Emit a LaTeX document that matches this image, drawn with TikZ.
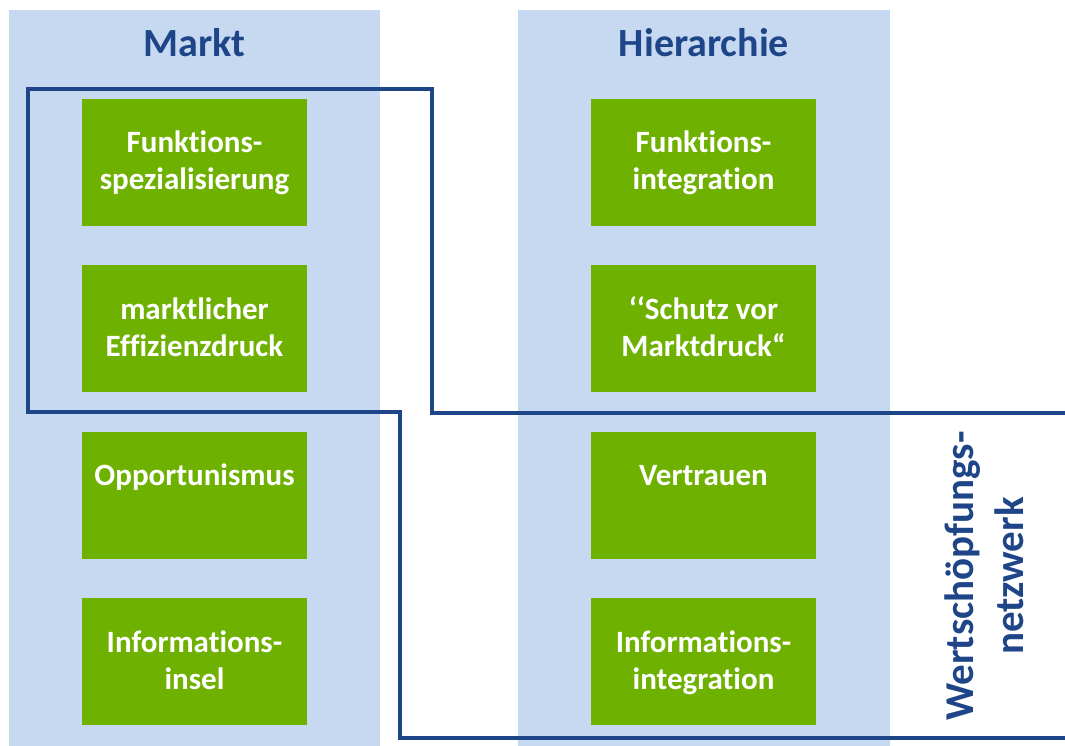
\documentclass[tikz,border=0pt]{standalone}
\usepackage{fontspec}
\setmainfont{Carlito}[Ligatures={NoCommon}]
\usetikzlibrary{calc}
\definecolor{colbg}{RGB}{198,217,241}
\definecolor{boxgreen}{RGB}{111,177,0}
\definecolor{darkblue}{RGB}{30,69,135}
\tikzset{
  column/.style={fill=colbg, draw=none},
  gbox/.style={rectangle, fill=boxgreen, draw=none, minimum width=225pt, minimum height=127pt, inner sep=0pt},
  btxt/.style={anchor=base, inner sep=0pt, text=white, font=\fontsize{31}{37}\selectfont\bfseries},
  title/.style={anchor=base, inner sep=0pt, text=darkblue, font=\fontsize{40}{49}\selectfont\bfseries},
  outline/.style={draw=darkblue, line width=3.5pt, line join=miter}
}
\newcommand{\twol}[2]{\renewcommand{\arraystretch}{1}\setlength{\tabcolsep}{0pt}\begin{tabular}[t]{c}#1\\#2\end{tabular}}
\begin{document}
\begin{tikzpicture}[x=1pt,y=-1pt]
\useasboundingbox (0,0) rectangle (1065,745);
\clip (0,0) rectangle (1065,745);
% columns
\fill[column] (9,10) rectangle (380,750);
\fill[column] (518,10) rectangle (890,750);
% titles
\node[title] (tm) at (194.5,56) {Markt};
\node[title] (th) at (704,56) {Hierarchie};
% left boxes
\node[gbox] (m1) at (194.5,162) {};
\node[gbox] (m2) at (194.5,328.5) {};
\node[gbox] (m3) at (194.5,495) {};
\node[gbox] (m4) at (194.5,661.5) {};
% right boxes
\node[gbox] (h1) at (703.5,162) {};
\node[gbox] (h2) at (703.5,328.5) {};
\node[gbox] (h3) at (703.5,495) {};
\node[gbox] (h4) at (703.5,661.5) {};
% texts
\node[btxt] (tm1) at ($(m1.north)+(0,54.5)$) {\twol{Funktions-}{spezialisierung}};
\node[btxt] (tm2) at ($(m2.north)+(0,54.5)$) {\twol{marktlicher}{Effizienzdruck}};
\node[btxt] (tm3) at ($(m3.north)+(0,54.5)$) {Opportunismus};
\node[btxt] (tm4) at ($(m4.north)+(0,54.5)$) {\twol{Informations-}{insel}};
\node[btxt] (th1) at ($(h1.north)+(0,54.5)$) {\twol{Funktions-}{integration}};
\node[btxt] (th2) at ($(h2.north)+(0,54.5)$) {\twol{‘‘Schutz vor}{Marktdruck“}};
\node[btxt] (th3) at ($(h3.north)+(0,54.5)$) {Vertrauen};
\node[btxt] (th4) at ($(h4.north)+(0,54.5)$) {\twol{Informations-}{integration}};
% network outline
\coordinate (p1) at (1075,413);
\coordinate (p2) at (432,413);
\coordinate (p3) at (432,89);
\coordinate (p4) at (28,89);
\coordinate (p5) at (28,412);
\coordinate (p6) at (400,412);
\coordinate (p7) at (400,738);
\coordinate (p8) at (1075,738);
\draw[outline] (p1) -- (p2) -- (p3) -- (p4) -- (p5) -- (p6) -- (p7) -- (p8);
% vertical label
\node[rotate=90, inner sep=0pt, text=darkblue, font=\fontsize{41}{50}\selectfont\bfseries] (wn) at (988,576) {\twol{Wertschöpfungs-}{netzwerk}};
\end{tikzpicture}
\end{document}
